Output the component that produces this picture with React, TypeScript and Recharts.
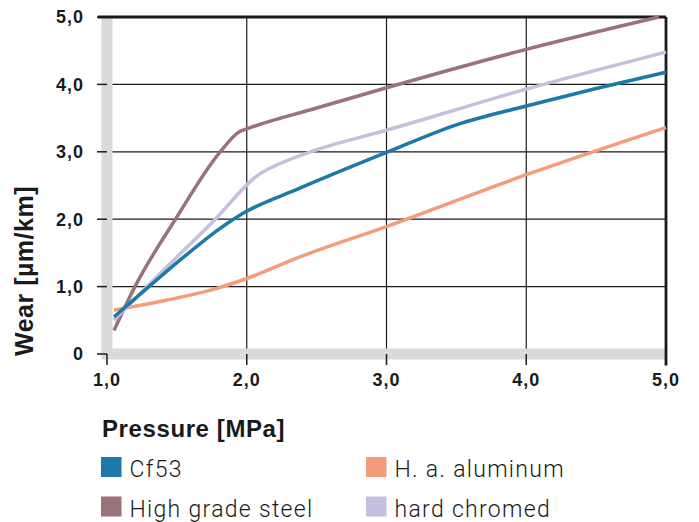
import { CartesianGrid, Line, LineChart, ReferenceLine, XAxis, YAxis } from "recharts";

// Palette.
const BLUE = "#1b7aa9";
const SALMON = "#f39d7a";
const MAUVE = "#9a727a";
const LAVENDER = "#c6bfdd";
const BAND = "#d9dadb";
const INK = "#1a1a1a";
const BOLD_FONT = "'Liberation Sans', Arial, sans-serif";
const LIGHT_FONT = "Roboto, 'Liberation Sans', Arial, sans-serif";

// ── Data ────────────────────────────────────────────────────────────
const X_TICKS = [1, 2, 3, 4, 5];
const Y_TICKS = [0, 1, 2, 3, 4, 5];

const cf53X = [1.05, 1.3, 1.55, 1.78, 1.95, 2.38, 3.0, 3.5, 4.0, 4.5, 5.0];
const cf53Y = [0.55, 1.0, 1.44, 1.82, 2.06, 2.46, 2.99, 3.4, 3.68, 3.94, 4.18];

const aluX = [1.05, 1.43, 1.78, 2.0, 2.38, 3.0, 4.0, 5.0];
const aluY = [0.65, 0.8, 0.97, 1.12, 1.44, 1.89, 2.66, 3.36];

const steelX = [1.05, 1.2, 1.49, 1.81, 1.95, 2.0, 2.5, 3.0, 4.0, 4.95];
const steelY = [0.35, 1.0, 2.0, 3.0, 3.3, 3.34, 3.65, 3.95, 4.52, 5.0];

const chromeX = [1.05, 1.31, 1.59, 1.78, 1.95, 2.02, 2.1, 2.19, 2.5, 3.0, 4.0, 5.0];
const chromeY = [0.5, 1.05, 1.62, 2.01, 2.4, 2.55, 2.68, 2.78, 3.03, 3.32, 3.93, 4.48];

const zip = (xs: number[], ys: number[]) => xs.map((x, i) => ({ x, y: ys[i] }));

const SERIES = [
  { name: "H. a. aluminum", color: SALMON, data: zip(aluX, aluY) },
  { name: "High grade steel", color: MAUVE, data: zip(steelX, steelY) },
  { name: "hard chromed", color: LAVENDER, data: zip(chromeX, chromeY) },
  { name: "Cf53", color: BLUE, data: zip(cf53X, cf53Y) },
];

// Legend reads row-wise in the reference: Cf53 | H. a. aluminum, steel | chromed
const LEGEND = [
  { label: "Cf53", color: BLUE },
  { label: "H. a. aluminum", color: SALMON },
  { label: "High grade steel", color: MAUVE },
  { label: "hard chromed", color: LAVENDER },
];

const fmt = (v: number) => (v === 0 ? "0" : v.toFixed(1).replace(".", ","));

const tickStyle = { fill: INK, fontSize: 18, fontWeight: 700, fontFamily: BOLD_FONT, letterSpacing: 1 };

export default function App() {
  return (
    <div style={{ position: "relative", width: 699, height: 522, background: "#fff" }}>
      <style>{"body{margin:0}"}</style>
      <LineChart width={699} height={522} margin={{ top: 17, right: 33, bottom: 0, left: 0 }}>
        <CartesianGrid stroke={INK} strokeWidth={1.2} />
        <XAxis
          type="number"
          dataKey="x"
          domain={[1, 5]}
          ticks={X_TICKS}
          tickFormatter={fmt}
          height={168}
          axisLine={false}
          tickLine={{ stroke: INK, strokeWidth: 1.5 }}
          tickSize={11}
          tickMargin={8}
          tick={tickStyle}
          allowDuplicatedCategory={false}
        />
        <YAxis
          type="number"
          dataKey="y"
          domain={[0, 5]}
          ticks={Y_TICKS}
          tickFormatter={fmt}
          width={107}
          axisLine={false}
          tickLine={{ stroke: INK, strokeWidth: 1.5 }}
          tickSize={10}
          tickMargin={13}
          tick={tickStyle}
          label={{
            content: () => (
              <text
                x={33}
                y={271}
                transform="rotate(-90 33 271)"
                textAnchor="middle"
                style={{ fontSize: 25, fontWeight: 700, fontFamily: BOLD_FONT, fill: INK, letterSpacing: 0.5 }}
              >
                Wear [µm/km]
              </text>
            ),
          }}
        />
        {/* light grey bands along x = 1 and y = 0 */}
        <ReferenceLine x={1} stroke={BAND} strokeWidth={11} />
        <ReferenceLine
          segment={[
            { x: 0.961, y: 0 },
            { x: 5, y: 0 },
          ]}
          stroke={BAND}
          strokeWidth={11}
          ifOverflow="visible"
        />
        {/* heavy frame on top and right */}
        <ReferenceLine
          segment={[
            { x: 0.935, y: 5 },
            { x: 5, y: 5 },
          ]}
          stroke={INK}
          strokeWidth={2.8}
          ifOverflow="visible"
        />
        <ReferenceLine
          segment={[
            { x: 5, y: -0.17 },
            { x: 5, y: 5 },
          ]}
          stroke={INK}
          strokeWidth={2.8}
          ifOverflow="visible"
        />
        {SERIES.map((s) => (
          <Line
            key={s.name}
            data={s.data}
            dataKey="y"
            name={s.name}
            type="monotone"
            stroke={s.color}
            strokeWidth={3.5}
            dot={false}
            activeDot={false}
            isAnimationActive={false}
          />
        ))}
      </LineChart>

      {/* axis title and legend sit below the plot, left-aligned with it */}
      <svg width={699} height={522} style={{ position: "absolute", left: 0, top: 0, pointerEvents: "none" }}>
        <text
          x={102}
          y={437}
          style={{ fontSize: 24, fontWeight: 700, fontFamily: BOLD_FONT, fill: INK, letterSpacing: 0.6 }}
        >
          Pressure [MPa]
        </text>
        {LEGEND.map((item, i) => {
          const x = i % 2 === 0 ? 101 : 366;
          const y = i < 2 ? 457 : 496.5;
          return (
            <g key={item.label}>
              <rect x={x} y={y} width={20.5} height={20} fill={item.color} />
              <text
                x={x + 28.5}
                y={y + 20}
                style={{ fontSize: 23, fontWeight: 300, fontFamily: LIGHT_FONT, fill: INK, letterSpacing: 1.3 }}
              >
                {item.label}
              </text>
            </g>
          );
        })}
      </svg>
    </div>
  );
}
